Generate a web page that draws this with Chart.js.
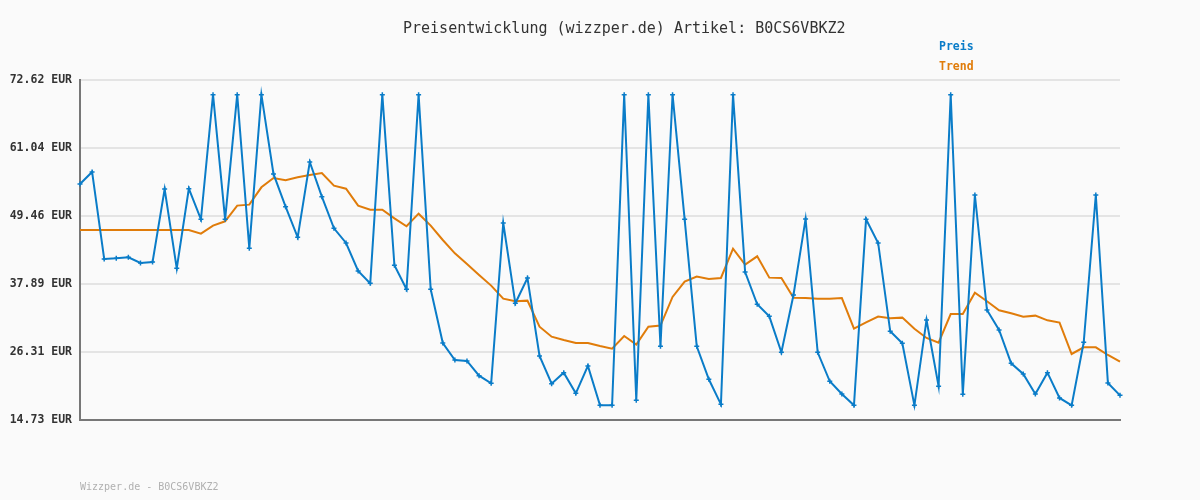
<!DOCTYPE html>
<html>
<head>
<meta charset="utf-8">
<script src="https://cdn.jsdelivr.net/npm/chart.js@4"></script>
<style>
    html, body { margin: 0; padding: 0; background: #fafafa; }
    #wrap { position: relative; width: 1200px; height: 500px; }
    .txt { position: absolute; font-family: "DejaVu Sans Mono", monospace; white-space: nowrap; }
    #title { left: 403px; top: 19px; font-size: 15px; color: #333; }
    .legend { left: 939px; font-size: 11.5px; font-weight: bold; }
    #footer { left: 80px; top: 481px; font-size: 10px; color: #b0b0b0; }
</style>
</head>
<body>
<div id="wrap">
    <canvas id="priceChart" width="1200" height="500"></canvas>
    <div class="txt" id="title">Preisentwicklung (wizzper.de) Artikel: B0CS6VBKZ2</div>
    <div class="txt legend" style="top:39px; color:#0a7cc8;">Preis</div>
    <div class="txt legend" style="top:59px; color:#e07c0a;">Trend</div>
    <div class="txt" id="footer">Wizzper.de - B0CS6VBKZ2</div>
</div>
<script>
// Preis (blau)
const preis = [
    54.91, 56.96, 42.15, 42.26, 42.43, 41.46, 41.63, 54.06, 40.56, 54.12,
    48.90, 70.12, 48.90, 70.12, 43.96, 70.12, 56.62, 51.05, 45.83, 58.66,
    52.76, 47.37, 44.87, 40.10, 38.00, 70.12, 41.07, 36.98, 70.12, 36.98,
    27.84, 24.95, 24.78, 22.28, 20.98, 48.27, 34.60, 38.91, 25.63, 20.92,
    22.79, 19.27, 23.93, 17.23, 17.23, 70.12, 18.08, 70.12, 27.28, 70.12,
    48.90, 27.28, 21.66, 17.40, 70.12, 39.93, 34.43, 32.38, 26.26, 36.02,
    48.96, 26.26, 21.32, 19.16, 17.23, 48.90, 44.87, 29.83, 27.79, 17.23,
    31.76, 20.47, 70.12, 19.10, 53.04, 33.46, 30.06, 24.38, 22.57, 19.16,
    22.79, 18.48, 17.23, 27.96, 53.04, 21.03, 18.93
];

// Trend (orange)
const trend = [
    47.08, 47.08, 47.08, 47.08, 47.08, 47.08, 47.08, 47.08, 47.08, 47.08,
    46.46, 47.82, 48.56, 51.23, 51.40, 54.35, 55.94, 55.54, 56.05, 56.45,
    56.79, 54.63, 54.12, 51.23, 50.54, 50.54, 49.07, 47.71, 49.86, 47.82,
    45.38, 43.11, 41.29, 39.42, 37.61, 35.39, 34.94, 35.05, 30.62, 28.92,
    28.35, 27.84, 27.84, 27.33, 26.88, 29.04, 27.56, 30.62, 30.80, 35.68,
    38.29, 39.14, 38.74, 38.91, 43.90, 41.18, 42.60, 38.97, 38.91, 35.56,
    35.50, 35.39, 35.39, 35.50, 30.28, 31.36, 32.33, 32.04, 32.16, 30.28,
    28.70, 27.90, 32.78, 32.78, 36.41, 34.94, 33.41, 32.89, 32.33, 32.50,
    31.70, 31.31, 25.97, 27.11, 27.11, 25.80, 24.67
];

// y-Achse
const yTicks = [14.73, 26.31, 37.89, 49.46, 61.04, 72.62];

// Messpunkte (ohne Datum im Bild)
const labels = preis.map((v, i) => String(i + 1));

const ctx = document.getElementById('priceChart').getContext('2d');

new Chart(ctx, {
    type: 'line',
    data: {
        labels: labels,
        datasets: [{
            label: 'Preis',
            data: preis,
            borderColor: '#0a7cc8',
            borderWidth: 2,
            pointStyle: 'cross',
            pointRadius: 2.5,
            pointBorderWidth: 1.5,
            pointBorderColor: '#0a7cc8',
            tension: 0,
            order: 1
        }, {
            label: 'Trend',
            data: trend,
            borderColor: '#e07c0a',
            borderWidth: 2,
            pointRadius: 0,
            tension: 0,
            order: 2
        }]
    },
    options: {
        responsive: false,
        animation: false,
        layout: {
            padding: { top: 80, left: 8, right: 80, bottom: 80 }
        },
        plugins: {
            legend: { display: false },
            title: { display: false },
            tooltip: { enabled: false }
        },
        scales: {
            x: {
                offset: false,
                ticks: { display: false },
                grid: { display: false, drawTicks: false },
                border: { display: true, color: '#777777', width: 2 }
            },
            y: {
                min: yTicks[0],
                max: yTicks[yTicks.length - 1],
                afterBuildTicks: function (scale) {
                    scale.ticks = yTicks.map(v => ({ value: v }));
                },
                afterFit: function (scale) {
                    scale.width = 72;
                },
                ticks: {
                    padding: 8,
                    color: '#333333',
                    font: { family: 'DejaVu Sans Mono', size: 11.5, weight: 'bold' },
                    callback: function (value) {
                        return value.toFixed(2) + ' EUR';
                    }
                },
                grid: { color: '#e4e4e4', lineWidth: 2, drawTicks: false },
                border: { display: true, color: '#777777', width: 2 }
            }
        }
    }
});
</script>
</body>
</html>
